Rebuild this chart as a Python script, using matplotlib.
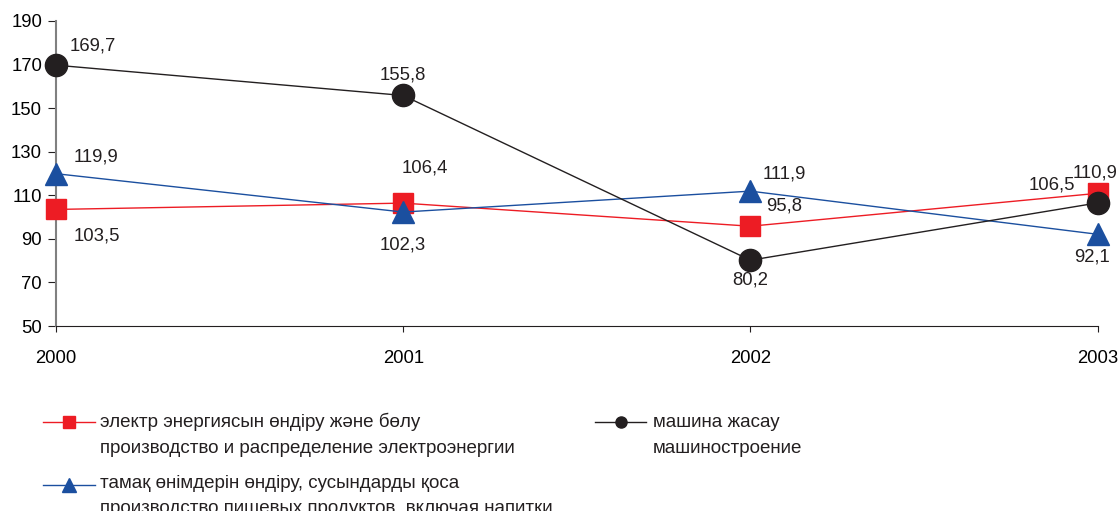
import matplotlib
matplotlib.use("Agg")
import matplotlib.pyplot as plt
from matplotlib.lines import Line2D

plt.rcParams['font.family'] = ['Liberation Sans', 'DejaVu Sans']

years = [2000, 2001, 2002, 2003]
electro = [103.5, 106.4, 95.8, 110.9]
machine = [169.7, 155.8, 80.2, 106.5]
food = [119.9, 102.3, 111.9, 92.1]
y_ticks = [50, 70, 90, 110, 130, 150, 170, 190]

electro_label = ["электр энергиясын өндіру және бөлу",
                 "производство и распределение электроэнергии"]
machine_label = ["машина жасау", "машиностроение"]
food_label = ["тамақ өнімдерін өндіру, сусындарды қоса",
              "производство пищевых продуктов, включая напитки"]

RED = "#ed1c24"
BLUE = "#1b4f9f"
BLACK = "#231f20"

# label offsets in pixels (dx, dy) for each point
electro_off = [(41, -27), (22, 35), (34, 20), (-3, 20)]
machine_off = [(37, 19), (0, 20), (0, -20), (-46, 18)]
food_off = [(40, 17), (0, -33), (34, 17), (-6, -23)]

fig = plt.figure(figsize=(11.2, 5.11), dpi=100)
ax = fig.add_axes([0.05, 0.362, 0.93, 0.597])

ax.plot(years, electro, color=RED, lw=1.0, marker='s', ms=14, mec=RED, clip_on=False, zorder=3)
ax.plot(years, food, color=BLUE, lw=1.0, marker='^', ms=16, mec=BLUE, clip_on=False, zorder=4)
ax.plot(years, machine, color=BLACK, lw=1.0, marker='o', ms=16, mec=BLACK, clip_on=False, zorder=5)

def fmt(v):
    return f"{v:.1f}".replace(".", ",")

for vals, offs in [(electro, electro_off), (machine, machine_off), (food, food_off)]:
    for x, v, (dx, dy) in zip(years, vals, offs):
        ax.annotate(fmt(v), (x, v), xytext=(dx, dy), textcoords='offset pixels',
                    ha='center', va='center', fontsize=13.3, color=BLACK, zorder=6)

ax.set_xlim(2000, 2003)
ax.set_ylim(50, 190)
ax.set_xticks(years)
ax.set_yticks(y_ticks)
ax.spines['top'].set_visible(False)
ax.spines['right'].set_visible(False)
ax.spines['left'].set_color("#808080")
ax.spines['left'].set_linewidth(1.5)
ax.spines['bottom'].set_color(BLACK)
ax.spines['bottom'].set_linewidth(0.8)
ax.tick_params(axis='y', direction='out', length=6, width=0.8, color=BLACK, labelsize=13.3, pad=4)
ax.tick_params(axis='x', direction='out', length=4, width=0.8, color=BLACK, labelsize=13.3, pad=13)

# legend drawn by hand (pixel positions)
W, H = 1120.0, 511.0
def legend_entry(x0, x1, y, color, marker, ms, lines, tx, baselines):
    fy = 1 - y / H
    fig.add_artist(Line2D([x0 / W, x1 / W], [fy, fy], color=color, lw=1.0, transform=fig.transFigure))
    fig.add_artist(Line2D([(x0 + x1) / 2 / W], [fy], color=color, marker=marker, ms=ms,
                          mec=color, transform=fig.transFigure))
    for line, by in zip(lines, baselines):
        fig.text(tx / W, 1 - by / H, line, ha='left', va='baseline', fontsize=13.5,
                 color=BLACK)

legend_entry(43, 95, 422, RED, 's', 8.5, electro_label, 100, [427, 453])
legend_entry(43, 95, 485, BLUE, '^', 9.5, food_label, 100, [488, 513])
legend_entry(595, 646, 422, BLACK, 'o', 8, machine_label, 653, [427, 453])

fig.savefig("out.png", dpi=100)
